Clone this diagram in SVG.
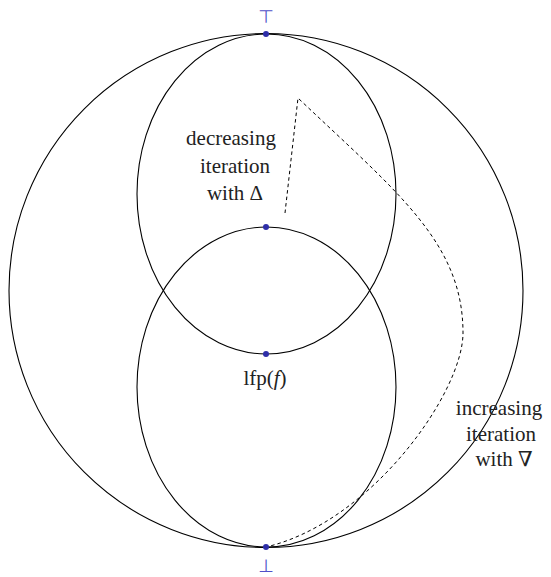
<svg xmlns="http://www.w3.org/2000/svg" width="551" height="577" viewBox="0 0 551 577">
<style>
.shape{fill:none;stroke:#000;stroke-width:1.1}
.dash{fill:none;stroke:#000;stroke-width:1;stroke-dasharray:3.5 3}
.lbl{font-family:"Liberation Serif","DejaVu Serif",serif;font-size:21px;fill:#222;text-anchor:middle}
.sym{font-family:"DejaVu Sans",sans-serif;font-size:18px;fill:#5050c8;text-anchor:middle}
.dot{fill:#2e2ea8}
</style>
<rect width="551" height="577" fill="#fff"/>
<g id="outer"><circle class="shape" cx="266" cy="290.5" r="257"/></g>
<g id="upper"><ellipse class="shape" cx="266.5" cy="194" rx="129.5" ry="160"/></g>
<g id="lower"><ellipse class="shape" cx="266.5" cy="387" rx="129.5" ry="160"/></g>
<g id="connectors">
<path class="dash" d="M285,213 L298,98 C398,193 463,243 463,333 C463,392 372,522 266,547"/>
</g>
<g id="top"><circle class="dot" cx="266" cy="34" r="3"/><text class="sym" x="266" y="23">⊤</text></g>
<g id="bottom"><circle class="dot" cx="266" cy="547" r="3"/><text class="sym" x="266" y="572">⊥</text></g>
<g id="mid1"><circle class="dot" cx="266" cy="227" r="3"/></g>
<g id="lfp"><circle class="dot" cx="266" cy="354" r="3"/><text class="lbl" x="265" y="385">lfp(<tspan font-style="italic">f</tspan>)</text></g>
<g id="dec-label"><text class="lbl"><tspan x="231" y="145">decreasing</tspan><tspan x="235" y="173">iteration</tspan><tspan x="235" y="200">with Δ</tspan></text></g>
<g id="inc-label"><text class="lbl"><tspan x="499" y="415">increasing</tspan><tspan x="501" y="441">iteration</tspan><tspan x="504" y="466">with ∇</tspan></text></g>
</svg>
